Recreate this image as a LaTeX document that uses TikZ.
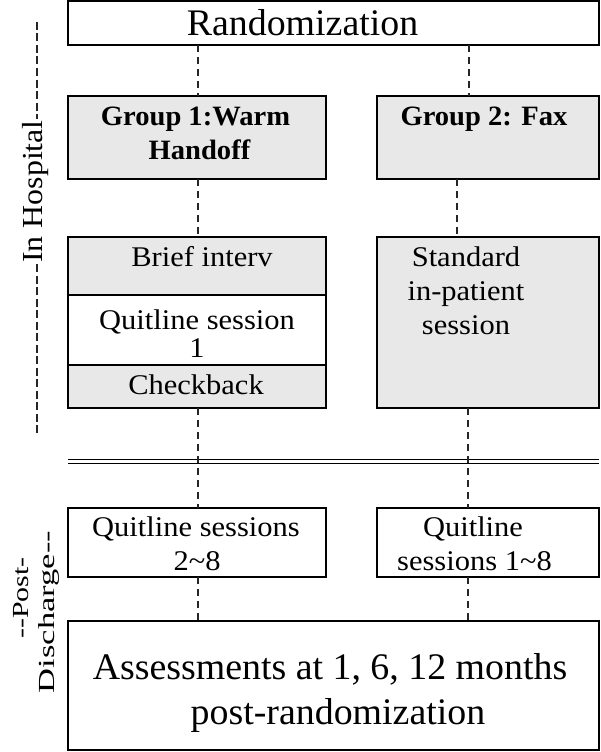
\documentclass[tikz,border=0pt]{standalone}
\usepackage{fontspec}
\setmainfont{Liberation Serif}
\usepackage{graphicx}
\newcommand{\hsbig}[1]{\scalebox{1.01}[1]{#1}}
\newcommand{\hsreg}[1]{\scalebox{1.07}[1]{#1}}
\newcommand{\hsbld}[1]{\scalebox{1.02}[1]{#1}}
\begin{document}
\begin{tikzpicture}[x=1pt,y=-1pt,
  box/.style={draw=black, line width=1.7pt, inner sep=0pt, outer sep=0pt, anchor=north west},
  shaded/.style={box, fill=black!9},
  conn/.style={draw=black!85, line width=1.1pt, dash pattern=on 7pt off 5pt},
  hyph/.style={draw=black!85, line width=1.3pt, dash pattern=on 8pt off 3.5pt},
  txt/.style={anchor=base, inner sep=0pt, outer sep=0pt},
  big/.style={txt, font=\fontsize{37.5}{40}\selectfont},
  reg/.style={txt, font=\fontsize{28.5}{30}\selectfont},
  bld/.style={txt, font=\fontsize{28}{30}\selectfont\bfseries},
  side/.style={anchor=base, rotate=90, inner sep=1.5pt, outer sep=0pt}
]
\useasboundingbox (0,0) rectangle (600,752);
% boxes
\node[box, minimum width=531pt, minimum height=44pt] (rand) at (68,1) {};
\node[shaded, minimum width=258pt, minimum height=83pt] (g1) at (68,96) {};
\node[shaded, minimum width=222pt, minimum height=83pt] (g2) at (377,96) {};
\node[shaded, minimum width=258pt, minimum height=58pt] (brief) at (68,237) {};
\node[box, fill=white, minimum width=258pt, minimum height=70pt] (qs1) at (68,295) {};
\node[shaded, minimum width=258pt, minimum height=43pt] (check) at (68,365) {};
\node[shaded, minimum width=222pt, minimum height=171pt] (std) at (377,237) {};
\node[box, minimum width=258pt, minimum height=69pt] (q28) at (68,508) {};
\node[box, minimum width=222pt, minimum height=69pt] (q18) at (377,508) {};
\node[box, minimum width=531pt, minimum height=129pt] (assess) at (68,621) {};
% texts
\node[big] (tRand) at (302.5,36) {\hsbig{Randomization}};
\node[bld] (tG1a) at (195.5,125) {\hsbld{Group 1:Warm}};
\node[bld] (tG1b) at (199.5,159) {\hsbld{Handoff}};
\node[bld] (tG2) at (484,125) {\hsbld{Group 2: Fax}};
\node[reg] (tBrief) at (202,266) {\hsreg{Brief interv}};
\node[reg] (tQs1a) at (197,329) {\hsreg{Quitline session}};
\node[reg] (tQs1b) at (197,357) {\hsreg{1}};
\node[reg] (tCheck) at (196,394) {\hsreg{Checkback}};
\node[reg] (tStdA) at (466,266) {\hsreg{Standard}};
\node[reg] (tStdB) at (466,300) {\hsreg{in-patient}};
\node[reg] (tStdC) at (466,334) {\hsreg{session}};
\node[reg] (tQ28a) at (196,536) {\hsreg{Quitline sessions}};
\node[reg] (tQ28b) at (197,570) {\hsreg{2\textasciitilde8}};
\node[reg] (tQ18a) at (473,536) {\hsreg{Quitline}};
\node[reg] (tQ18b) at (474.5,570) {\hsreg{sessions 1\textasciitilde8}};
\node[big] (tAsA) at (330,679) {\hsbig{Assessments at 1, 6, 12 months}};
\node[big] (tAsB) at (338,724) {\hsbig{post-randomization}};
% side labels
\node[side, font=\fontsize{29}{30}\selectfont] (hosp) at (42,191.5) {\scalebox{1.1}[1]{In Hospital}};
\coordinate (hA) at (37,22);
\coordinate (hB) at (37,433);
\draw[hyph] (hA) -- (hosp.east -| hA);
\draw[hyph] (hosp.west -| hA) -- (hB);
\node[side, inner sep=0pt, font=\fontsize{23}{24}\selectfont] (post) at (28,598) {\scalebox{1.3}[1]{-{}-Post-}};
\node[side, inner sep=0pt, font=\fontsize{23}{24}\selectfont] (disch) at (54,612) {\scalebox{1.5}[1]{Discharge-{}-}};
% double separator
\draw[line width=1.3pt, black] (68,459.5) -- (599,459.5);
\draw[line width=1.3pt, black] (68,463.3) -- (599,463.3);
% connectors
\coordinate (L) at (198,0);
\coordinate (R1) at (469,0);
\coordinate (R2) at (457,0);
\coordinate (R3) at (468,0);
\draw[conn] (rand.south -| L) -- (g1.north -| L);
\draw[conn] (g1.south -| L) -- (brief.north -| L);
\draw[conn] (check.south -| L) -- (q28.north -| L);
\draw[conn] (q28.south -| L) -- (assess.north -| L);
\draw[conn] (rand.south -| R1) -- (g2.north -| R1);
\draw[conn] (g2.south -| R2) -- (std.north -| R2);
\draw[conn] (std.south -| R3) -- (q18.north -| R3);
\draw[conn] (q18.south -| R3) -- (assess.north -| R3);
\end{tikzpicture}
\end{document}
